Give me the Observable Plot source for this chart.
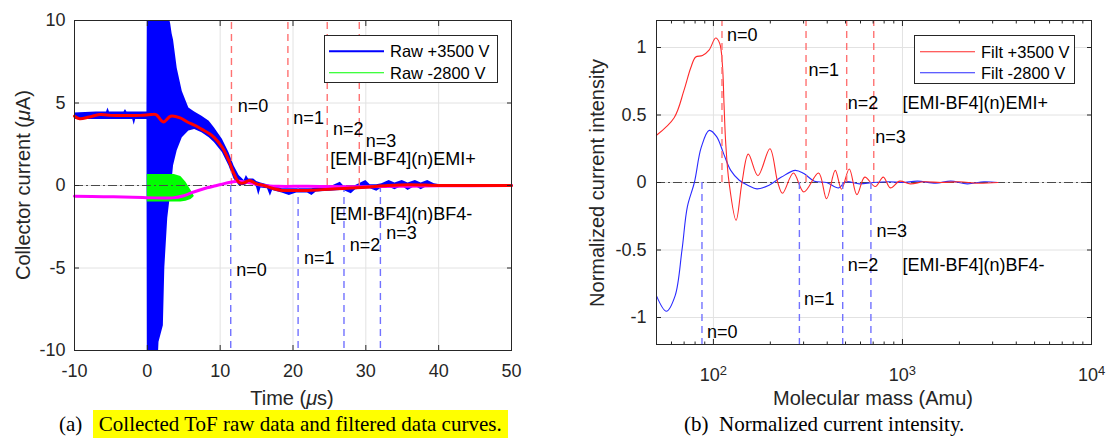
<!DOCTYPE html>
<html>
<head>
<meta charset="utf-8">
<script src="https://cdn.jsdelivr.net/npm/d3@7"></script>
<script src="https://cdn.jsdelivr.net/npm/@observablehq/plot@0.6"></script>
<style>
  html, body { margin: 0; padding: 0; background: #fff; }
  #fig { position: relative; width: 1107px; height: 444px; overflow: hidden; font-family: "Liberation Sans", Arial, Helvetica, sans-serif; color: #262626; }
  .panel { position: absolute; top: 0; }
  .axtitle { position: absolute; font-size: 20px; white-space: nowrap; transform: translate(-50%, -50%); color: #262626; line-height: 1; }
  .axtitle.rot { transform: translate(-50%, -50%) rotate(-90deg); }
  .legend { position: absolute; background: #fff; border: 1px solid #262626; box-sizing: border-box; }
  .legend .sw { position: absolute; height: 1.5px; transform: translateY(-50%); }
  .legend .lab { position: absolute; transform: translateY(-50%); font-size: 16.5px; color: #000; white-space: nowrap; line-height: 1; }
  .caption { position: absolute; font-family: "Liberation Serif", "Times New Roman", serif; font-size: 21px; color: #000; white-space: nowrap; line-height: 26px; }
  .hl { background: #ffff00; padding: 2px 6px; }
</style>
</head>
<body>
<div id="fig"></div>
<script>
// ---------------- Panel (a): ToF raw data and filtered curves ----------------
const timeDomain = [-10, 50];
const currentDomain = [-10, 10];
const timeTicks = [-10, 0, 10, 20, 30, 40, 50];
const currentTicks = [-10, -5, 0, 5, 10];

// Raw +3500 V signal, drawn as its envelope (lower / upper)
const rawPosT  = [-10, -7, -5.6, -5.4, -5.2, -3.2, -3.0, -2.8, -2.0, -1.8, -1.6, -0.05, 0, 1.5, 1.6, 2.2, 2.4, 2.8, 3.2, 3.4, 3.6, 4.1, 4.8, 5.7, 6.5, 7.5, 8.5, 9.2, 10.3, 11.2, 11.9,
                  12.6, 13.3, 13.6, 13.9, 14.6, 15.0, 15.3, 15.6, 16.5, 16.9, 17.2, 18.5, 19.5, 20.5, 22, 22.6, 23.2, 25, 26.5, 27, 28, 28.6, 30, 30.6, 31.5, 32.2, 33.2, 34, 35, 35.8, 36.8, 37.6, 38.5, 39.4, 40.2, 50];
const rawPosHi = [4.4, 4.45, 4.45, 4.7, 4.45, 4.45, 4.6, 4.45, 4.45, 4.45, 4.45, 4.45, 10.5, 10.5, 10.5, 10.5, 10.5, 10.5, 9.8, 9.2, 8.8, 7.1, 5.7, 4.7, 4.45, 4.2, 3.9, 3.5, 2.8, 2.0, 1.2,
                  0.6, 0.3, 0.6, 0.4, 0.4, 0.25, 0.2, 0.15, 0.05, 0.0, 0.0, -0.2, -0.2, -0.2, -0.2, -0.2, -0.15, -0.1, 0.2, -0.05, -0.05, 0.0, 0.3, 0.05, 0.05, 0.1, 0.3, 0.15, 0.3, 0.15, 0.3, 0.15, 0.3, 0.1, 0.05, 0.02];
const rawPosLo = [4.0, 4.0, 4.0, 4.0, 4.0, 4.0, 4.0, 4.0, 4.0, 3.65, 4.0, 4.0, -10.5, -10.5, -9.5, -8.5, -5.0, -2.0, -0.5, 0.3, 1.2, 2.1, 2.9, 3.3, 3.4, 3.2, 2.9, 2.6, 2.0, 1.2, 0.4,
                  0.0, 0.0, 0.05, 0.1, 0.1, -0.1, -0.6, -0.15, -0.2, -0.65, -0.3, -0.45, -0.6, -0.45, -0.45, -0.6, -0.4, -0.35, -0.3, -0.3, -0.5, -0.25, -0.2, -0.2, -0.35, -0.15, -0.1, -0.25, -0.05, -0.3, -0.05, -0.25, -0.05, -0.1, -0.03, -0.02];

// Raw -2800 V signal envelope (the burst near t = 0)
const rawNegT  = [0, 3.7, 4.6, 5.3, 6.0, 6.4];
const rawNegHi = [0.67, 0.67, 0.55, 0.2, -0.3, -0.62];
const rawNegLo = [-1.0, -1.0, -1.0, -0.95, -0.85, -0.7];

// Filtered curves
const filtPosT = [-10, -9.3, -8, -6.5, -5, -3, -1, 0.5, 1.2, 2.2, 3.2, 4.5, 5.5, 6.5, 7.5, 8.5, 9.2, 10.3, 11.2, 11.9, 12.6, 13.2, 14.0, 15, 16, 17, 18.5, 20, 22, 24, 26, 28, 30, 33, 36, 40, 45, 50];
const filtPosV = [4.2, 4.05, 4.15, 4.3, 4.25, 4.25, 4.25, 4.3, 4.3, 3.85, 4.2, 4.1, 3.85, 3.65, 3.4, 3.15, 2.9, 2.3, 1.5, 0.7, 0.18, 0.15, 0.3, 0.1, 0.0, -0.15, -0.3, -0.3, -0.3, -0.25, -0.2, -0.15, -0.1, 0.0, 0.05, 0.0, 0.0, 0.0];
const filtNegT = [-10, -6, -2, 1, 3.5, 5, 6, 7, 8.2, 9.2, 10.1, 11.4, 12.8, 14.2, 16, 18, 22, 28, 34, 40, 50];
const filtNegV = [-0.65, -0.68, -0.71, -0.75, -0.75, -0.62, -0.45, -0.3, -0.14, -0.03, 0.06, 0.2, 0.25, 0.15, 0.0, -0.05, -0.05, -0.08, -0.05, -0.02, 0.0];

// Expected arrival times (µs) of cluster species
const nLabels = ["n=0", "n=1", "n=2", "n=3"];
const cationTimes = [11.55, 19.3, 24.7, 29.1];
const anionTimes  = [11.45, 20.7, 27.0, 32.0];
const cationLabelT = [12.4, 20.05, 25.5, 30.0];
const cationLabelV = [4.8, 4.1, 3.4, 2.7];
const anionLabelT  = [12.2, 21.5, 27.8, 32.8];
const anionLabelV  = [-5.15, -4.4, -3.6, -2.9];
const seriesNames = ["[EMI-BF4](n)EMI+", "[EMI-BF4](n)BF4-"];
const seriesLabelT = [25.1, 25.1];
const seriesLabelV = [1.6, -1.76];
const legendA = ["Raw +3500 V", "Raw -2800 V"];

// ---------------- Panel (b): normalized current intensity ----------------
const massDomain = [50, 10000];
const intensityDomain = [-1.2, 1.2];
const massTicks = [100, 1000, 10000];
const massMinorTicks = [60, 70, 80, 90, 200, 300, 400, 500, 600, 700, 800, 900, 2000, 3000, 4000, 5000, 6000, 7000, 8000, 9000];
const intensityTicks = [-1, -0.5, 0, 0.5, 1];

const filtPosM = [50, 62, 69.8, 75.9, 80.6, 87.5, 94.8, 102.8, 108, 111.6, 113.8, 116.2, 121, 131.8, 141.6, 153, 172, 199, 219, 232, 265, 301, 360, 397, 441, 476, 523, 574, 632, 718, 792, 863, 967, 1100, 1300, 1600, 2000, 2500, 3200];
const filtPosI = [0.35, 0.48, 0.68, 0.85, 0.93, 0.94, 0.98, 1.07, 1.03, 0.87, 0.58, 0.29, 0.0, -0.28, 0.0, 0.21, 0.05, 0.25, 0.0, -0.08, 0.07, -0.07, 0.07, -0.12, 0.09, -0.05, 0.10, -0.09, 0.04, -0.03, 0.04, -0.04, 0.01, -0.01, 0.005, 0, 0.005, -0.005, 0];
const filtNegM = [50, 56.4, 62.7, 68.2, 72.8, 79.3, 86.2, 95, 104, 113.5, 123.5, 137, 153, 170, 197, 229, 271, 301, 342, 397, 460, 501, 593, 700, 850, 1000, 1200, 1500, 1800, 2200, 2700, 3200];
const filtNegI = [-0.84, -0.954, -0.84, -0.50, -0.18, 0, 0.26, 0.386, 0.34, 0.21, 0.09, 0.017, -0.022, -0.047, -0.02, 0.04, 0.09, 0.066, 0.01, 0, -0.04, 0.005, -0.01, 0.0, 0.005, 0.0, 0.01, -0.005, 0.01, -0.01, 0.005, 0];

const cationMasses = [111, 309, 507, 705];
const anionMasses  = [87, 285, 483, 681];
const cationLabelM = [118, 318, 513, 718];
const cationLabelI = [1.09, 0.83, 0.59, 0.336];
const anionLabelM  = [92.6, 301, 513, 728];
const anionLabelI  = [-1.11, -0.863, -0.61, -0.364];
const seriesLabelM = [1000, 1000];
const seriesLabelI = [0.59, -0.61];
const legendB = ["Filt +3500 V", "Filt -2800 V"];

// ---------------- build tables ----------------
const rows = (cols) => cols[Object.keys(cols)[0]].map((_, i) => Object.fromEntries(Object.entries(cols).map(([k, a]) => [k, a[i]])));
const rawPos = rows({t: rawPosT, lo: rawPosLo, hi: rawPosHi});
const rawNeg = rows({t: rawNegT, lo: rawNegLo, hi: rawNegHi});
const filtPos = rows({t: filtPosT, v: filtPosV});
const filtNeg = rows({t: filtNegT, v: filtNegV});
const catLabA = rows({x: cationLabelT, y: cationLabelV, text: nLabels});
const aniLabA = rows({x: anionLabelT, y: anionLabelV, text: nLabels});
const serLabA = rows({x: seriesLabelT, y: seriesLabelV, text: seriesNames});
const filtPosB = rows({m: filtPosM, v: filtPosI});
const filtNegB = rows({m: filtNegM, v: filtNegI});
const catLabB = rows({x: cationLabelM, y: cationLabelI, text: nLabels});
const aniLabB = rows({x: anionLabelM, y: anionLabelI, text: nLabels});
const serLabB = rows({x: seriesLabelM, y: seriesLabelI, text: seriesNames});

const fontFamily = '"Liberation Sans", Arial, Helvetica, sans-serif';
const gridColor = "#e2e2e2";
const axisColor = "#262626";
const dashRed = "#ff7272";
const dashBlue = "#7272ff";
const noLabel = () => "";

const plotA = Plot.plot({
  width: 540, height: 400,
  marginLeft: 74, marginRight: 29, marginTop: 20, marginBottom: 50,
  style: {fontFamily, fontSize: "18px", color: axisColor, background: "transparent", overflow: "visible"},
  x: {domain: timeDomain},
  y: {domain: currentDomain},
  marks: [
    Plot.gridX(timeTicks, {stroke: gridColor, strokeOpacity: 1}),
    Plot.gridY(currentTicks, {stroke: gridColor, strokeOpacity: 1}),
    Plot.areaY(rawPos, {x: "t", y1: "lo", y2: "hi", fill: "#0000ff", clip: true}),
    Plot.areaY(rawNeg, {x: "t", y1: "lo", y2: "hi", fill: "#00ff00", clip: true}),
    Plot.ruleY([0], {stroke: "#4a4a4a", strokeDasharray: "9,3,2,3"}),
    Plot.ruleX(cationTimes, {y1: 0, y2: currentDomain[1], stroke: dashRed, strokeWidth: 1.4, strokeDasharray: "7,5"}),
    Plot.ruleX(anionTimes, {y1: 0, y2: currentDomain[0], stroke: dashBlue, strokeWidth: 1.4, strokeDasharray: "7,5"}),
    Plot.line(filtNeg, {x: "t", y: "v", stroke: "#ff00ff", strokeWidth: 3, curve: "catmull-rom"}),
    Plot.line(filtPos, {x: "t", y: "v", stroke: "#ff0000", strokeWidth: 3, curve: "catmull-rom"}),
    Plot.text(catLabA, {x: "x", y: "y", text: "text", textAnchor: "start", fill: "#000", fontSize: 18}),
    Plot.text(aniLabA, {x: "x", y: "y", text: "text", textAnchor: "start", fill: "#000", fontSize: 18}),
    Plot.text(serLabA, {x: "x", y: "y", text: "text", textAnchor: "start", fill: "#000", fontSize: 18}),
    Plot.frame({stroke: axisColor}),
    Plot.axisX(timeTicks, {anchor: "bottom", tickSize: -5, tickPadding: 18.6, tickFormat: d => String(d), label: null}),
    Plot.axisX(timeTicks, {anchor: "top", tickSize: -5, tickFormat: noLabel, label: null}),
    Plot.axisY(currentTicks, {anchor: "left", tickSize: -5, tickPadding: 14, tickFormat: d => String(d), label: null}),
    Plot.axisY(currentTicks, {anchor: "right", tickSize: -5, tickFormat: noLabel, label: null})
  ]
});

const plotB = Plot.plot({
  width: 547, height: 400,
  marginLeft: 96, marginRight: 16, marginTop: 20, marginBottom: 56,
  style: {fontFamily, fontSize: "18px", color: axisColor, background: "transparent", overflow: "visible"},
  x: {type: "log", domain: massDomain},
  y: {domain: intensityDomain},
  marks: [
    Plot.gridX(massTicks, {stroke: gridColor, strokeOpacity: 1}),
    Plot.gridY(intensityTicks, {stroke: gridColor, strokeOpacity: 1}),
    Plot.ruleY([0], {stroke: "#4a4a4a", strokeDasharray: "9,3,2,3"}),
    Plot.line(filtNegB, {x: "m", y: "v", stroke: "#2a2aff", strokeWidth: 1.1, curve: "catmull-rom"}),
    Plot.line(filtPosB, {x: "m", y: "v", stroke: "#ff2a2a", strokeWidth: 1.1, curve: "catmull-rom"}),
    Plot.ruleX(cationMasses, {y1: 0, y2: intensityDomain[1], stroke: dashRed, strokeWidth: 1.4, strokeDasharray: "7,5"}),
    Plot.ruleX(anionMasses, {y1: 0, y2: intensityDomain[0], stroke: dashBlue, strokeWidth: 1.4, strokeDasharray: "7,5"}),
    Plot.text(catLabB, {x: "x", y: "y", text: "text", textAnchor: "start", fill: "#000", fontSize: 18}),
    Plot.text(aniLabB, {x: "x", y: "y", text: "text", textAnchor: "start", fill: "#000", fontSize: 18}),
    Plot.text(serLabB, {x: "x", y: "y", text: "text", textAnchor: "start", fill: "#000", fontSize: 18}),
    Plot.frame({stroke: axisColor}),
    Plot.axisX(massTicks, {anchor: "bottom", tickSize: -5, tickPadding: 28.7, tickFormat: d => "10^" + Math.round(Math.log10(d)), label: null}),
    Plot.axisX(massMinorTicks, {anchor: "bottom", tickSize: -2.5, tickFormat: noLabel, label: null}),
    Plot.axisX(massTicks, {anchor: "top", tickSize: -5, tickFormat: noLabel, label: null}),
    Plot.axisX(massMinorTicks, {anchor: "top", tickSize: -2.5, tickFormat: noLabel, label: null}),
    Plot.axisY(intensityTicks, {anchor: "left", tickSize: -5, tickPadding: 15, tickFormat: d => String(d), label: null}),
    Plot.axisY(intensityTicks, {anchor: "right", tickSize: -5, tickFormat: noLabel, label: null})
  ]
});

// superscript exponents on log tick labels
plotB.querySelectorAll("text").forEach(t => {
  const s = t.textContent;
  if (s.includes("^")) {
    const [base, exp] = s.split("^");
    t.textContent = "";
    const ns = "http://www.w3.org/2000/svg";
    const a = document.createElementNS(ns, "tspan"); a.textContent = base;
    const b = document.createElementNS(ns, "tspan"); b.textContent = exp;
    b.setAttribute("dy", "-0.5em"); b.setAttribute("font-size", "0.72em");
    t.append(a, b);
  }
});

const fig = document.getElementById("fig");
const pa = document.createElement("div"); pa.className = "panel"; pa.style.left = "0px"; pa.append(plotA);
const pb = document.createElement("div"); pb.className = "panel"; pb.style.left = "560px"; pb.append(plotB);
fig.append(pa, pb);

function addDiv(cls, html, css) {
  const d = document.createElement("div");
  d.className = cls; d.innerHTML = html; Object.assign(d.style, css); fig.append(d); return d;
}
addDiv("axtitle", "Time (<i>μ</i>s)", {left: "292px", top: "398px"});
addDiv("axtitle rot", "Collector current (<i>μ</i>A)", {left: "23px", top: "185px"});
addDiv("axtitle", "Molecular mass (Amu)", {left: "873px", top: "398px"});
addDiv("axtitle rot", "Normalized current intensity", {left: "597px", top: "183px"});

function legend(labels, colors, box, lineX, lineW, textX, rowY) {
  const lg = addDiv("legend", "", {left: box[0] + "px", top: box[1] + "px", width: box[2] + "px", height: box[3] + "px"});
  labels.forEach((lab, i) => {
    const sw = document.createElement("div"); sw.className = "sw";
    Object.assign(sw.style, {left: lineX + "px", width: lineW + "px", top: rowY[i] + "px", background: colors[i]});
    const tx = document.createElement("div"); tx.className = "lab"; tx.textContent = lab;
    Object.assign(tx.style, {left: textX + "px", top: rowY[i] + "px"});
    lg.append(sw, tx);
  });
}
legend(legendA, ["#0000ff", "#00ff00"], [324, 35, 174, 48], 4, 55, 65, [15, 36.5]);
legend(legendB, ["#ff2a2a", "#2a2aff"], [914, 35, 161, 49], 5, 55, 66, [15.5, 36.5]);

addDiv("caption", '(a)&nbsp;&nbsp;<span class="hl">Collected ToF raw data and filtered data curves.</span>', {left: "59px", top: "411px"});
addDiv("caption", '(b)&nbsp;&nbsp;Normalized current intensity.', {left: "684px", top: "411px"});
</script>
</body>
</html>
